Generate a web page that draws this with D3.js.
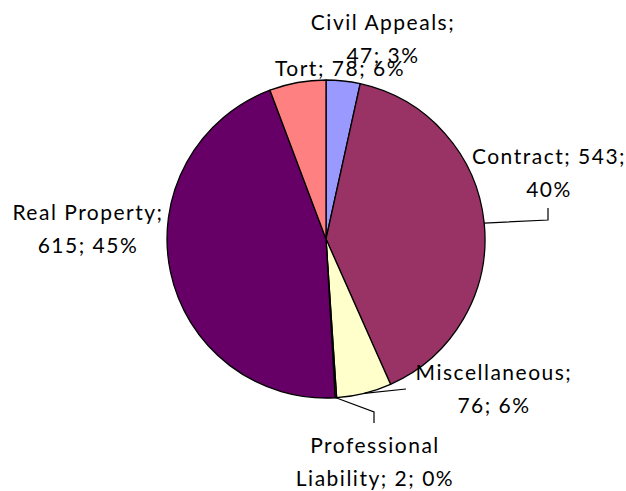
<!DOCTYPE html>
<html><head><meta charset="utf-8">
<script src="https://cdn.jsdelivr.net/npm/d3@7"></script>
<style>body{margin:0;background:#fff}</style>
</head><body>
<script>
const categories = ["Civil Appeals","Contract","Miscellaneous","Professional Liability","Real Property","Tort"];
const values = [47,543,76,2,615,78];
const percents = ["3%","40%","6%","0%","45%","6%"];
const colors = ["#9999FF","#993366","#FFFFCC","#CCFFFF","#660066","#FF8080"];

const W=626,H=491, cx=326, cy=239, R=159;
// label layout: lines, center x, first baseline
const labelLayout = [
  {lines:["Civil Appeals;","47; 3%"], x:383, y:30},
  {lines:["Contract; 543;","40%"], x:549, y:164, leader:[[548,220],[548,208]]},
  {lines:["Miscellaneous;","76; 6%"], x:494, y:380, leader:[[406,389]]},
  {lines:["Professional","Liability; 2; 0%"], x:375, y:453, leader:[[374,412],[374,423]]},
  {lines:["Real Property;","615; 45%"], x:88, y:220},
  {lines:["Tort; 78; 6%"], x:340, y:76}
];
const lineH=33;

const svg=d3.select("body").append("svg").attr("width",W).attr("height",H);
const pie=d3.pie().sort(null).value(d=>d.v).startAngle(0).endAngle(2*Math.PI);
const data=pie(categories.map((c,i)=>({c,v:values[i],i})));
const arc=d3.arc().innerRadius(0).outerRadius(R);
const g=svg.append("g").attr("transform",`translate(${cx},${cy})`);
g.selectAll("path").data(data).join("path")
  .attr("d",arc).attr("fill",d=>colors[d.data.i])
  .attr("stroke","#000").attr("stroke-width",1.3).attr("stroke-linejoin","round");

// leaders
data.forEach((d,i)=>{
  const L=labelLayout[i]; if(!L.leader) return;
  const a=(d.startAngle+d.endAngle)/2;
  const p0=[cx+Math.sin(a)*R, cy-Math.cos(a)*R];
  const pts=[p0,...L.leader];
  svg.append("path").attr("d",d3.line()(pts)).attr("fill","none")
    .attr("stroke","#000").attr("stroke-width",1.2);
});

// labels
labelLayout.forEach((L,i)=>{
  const t=svg.append("text").attr("text-anchor","middle")
    .attr("font-family","Lato, 'Open Sans', sans-serif").attr("font-size",21)
    .attr("letter-spacing",1.5).attr("fill","#000");
  L.lines.forEach((ln,j)=>t.append("tspan").attr("x",L.x).attr("y",L.y+j*lineH).text(ln));
});
</script>
</body></html>
